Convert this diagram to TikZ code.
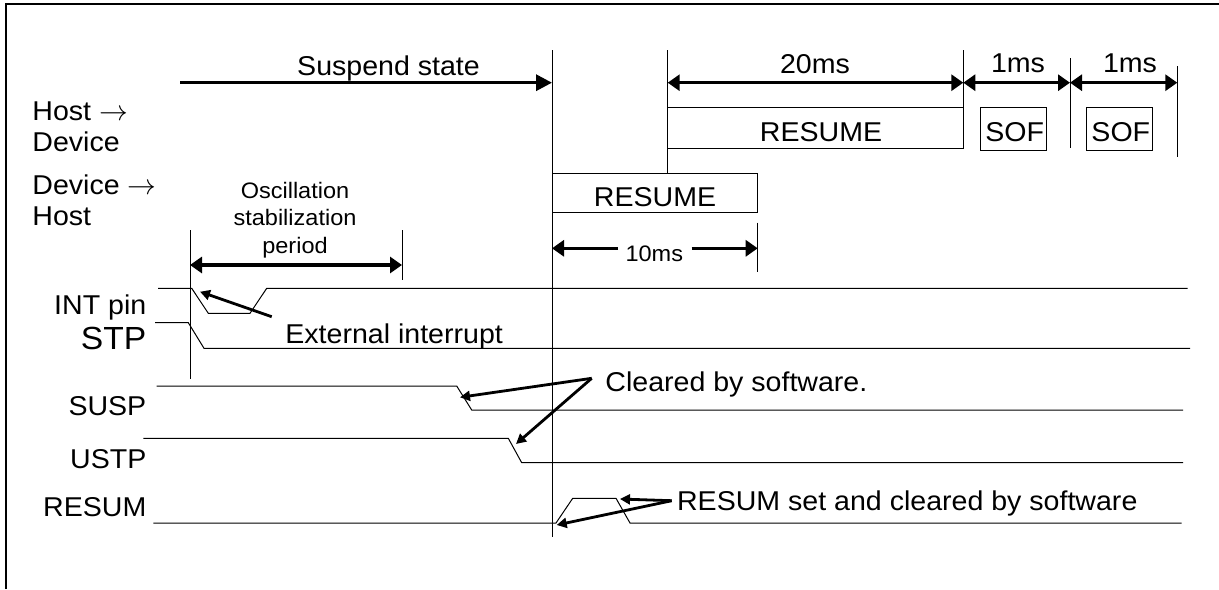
\documentclass[tikz,border=0pt]{standalone}
\usepackage{fontspec}
\setmainfont[FakeStretch=1.05]{Liberation Sans}
\usetikzlibrary{arrows.meta}
\begin{document}
\begin{tikzpicture}[x=0.5pt,y=-0.5pt,
  every node/.style={inner sep=0pt,font=\fontsize{13.6}{15.5}\selectfont},
  small/.style={font=\fontsize{11.2}{13.75}\selectfont},
  big/.style={font=\fontsize{16}{18}\selectfont},
  thin/.style={line width=0.5pt},
  span/.style={line width=1.6pt,{Triangle[length=6pt,width=8pt]}-{Triangle[length=6pt,width=8pt]}},
  halfspan/.style={line width=1.6pt,-{Triangle[length=6pt,width=8pt]}},
  callout/.style={line width=1.4pt,-{Triangle[length=5pt,width=5pt]}}]
\useasboundingbox (0,0) rectangle (1219,589);
\draw[line width=1pt] (6,589) -- (6,4) -- (1219,4);
% bus rows
\node[anchor=base west,align=left] (hd) at (32,151) {Host $\rightarrow$\\Device};
\node[anchor=base west,align=left] (dh) at (32,225) {Device $\rightarrow$\\Host};
\node[anchor=base] (suspst) at (388.5,75) {Suspend state};
\node[anchor=base] (t20) at (815,73) {20ms};
\node[anchor=base] (t1a) at (1018,72.7) {1ms};
\node[anchor=base] (t1b) at (1130,72.7) {1ms};
\node[small,anchor=base,align=center] (osc) at (295,253) {Oscillation\\stabilization\\period};
\node[small,anchor=base] (t10) at (654.3,261.7) {10ms};
\draw[thin] (667.7,107.7) rectangle (963.3,148.3);
\node[anchor=base] (hres) at (821,141.7) {RESUME};
\draw[thin] (552,173.3) rectangle (757.7,212.3);
\node[anchor=base] (dres) at (655,206.7) {RESUME};
\draw[thin] (980,107.7) rectangle (1046,150);
\node[anchor=base] (sof1) at (1014.7,141.7) {SOF};
\draw[thin] (1086.7,107.7) rectangle (1152.3,150);
\node[anchor=base] (sof2) at (1120.8,141.7) {SOF};
% time marks
\draw[thin] (552,50) -- (552,537);
\draw[thin] (667.7,50) -- (667.7,173.3);
\draw[thin] (963.3,50) -- (963.3,148.3);
\draw[thin] (1070,58.3) -- (1070,148.3);
\draw[thin] (1177.3,66) -- (1177.3,156.7);
\draw[thin] (190,230) -- (190,379);
\draw[thin] (402,230) -- (402,280);
\draw[thin] (757.7,222.7) -- (757.7,271.7);
\draw[line width=1.6pt,-{Triangle[length=8pt,width=8pt]}] (180,82.7) -- (552,82.7);
\foreach \a/\b in {667.7/963.3,963.3/1070,1070/1177.3}
  \draw[span] (\a,82.7) -- (\b,82.7);
\draw[span] (190,265) -- (402,265);
\draw[halfspan] (618,248.3) -- (552,248.3);
\draw[halfspan] (691.7,248.3) -- (757.7,248.3);
% signals
\node[anchor=base east] (lint) at (146.7,314.3) {INT pin};
\node[big,anchor=base east] (lstp) at (146.7,349) {STP};
\node[anchor=base east] (lsusp) at (146.7,415) {SUSP};
\node[anchor=base east] (lustp) at (146.7,468.3) {USTP};
\node[anchor=base east] (lres) at (146.7,516.7) {RESUM};
\draw[thin] (158,288.3) -- (191.7,288.3) -- (208.3,313.3) -- (250,313.3) -- (266.7,288.3) -- (1187.7,288.3);
\draw[thin] (155,322.7) -- (188.3,322.7) -- (204,348.3) -- (1190,348.3);
\draw[thin] (156.7,386) -- (456.7,386) -- (471.7,410) -- (1183,410);
\draw[thin] (143.3,438.3) -- (508.3,438.3) -- (521.7,462.7) -- (1183,462.7);
\draw[thin] (153.3,523) -- (556,523) -- (572.7,498.3) -- (616,498.3) -- (630,523) -- (1181.7,523);
% callouts
\node[anchor=base west] (ext) at (285,343.3) {External interrupt};
\node[anchor=base west] (clr) at (605,391) {Cleared by software.};
\node[anchor=base west] (rset) at (676.7,510) {RESUM set and cleared by software};
\coordinate (extT) at (271.7,316.7);
\coordinate (extH) at (200,291.7);
\coordinate (clrT) at (591.7,378.3);
\coordinate (clrA) at (460,397.3);
\coordinate (clrB) at (516,444);
\coordinate (rsT) at (671.7,500.7);
\coordinate (rsA) at (620,499);
\coordinate (rsB) at (556.7,525);
\draw[callout] (extT) -- (extH);
\draw[callout] (clrT) -- (clrA);
\draw[callout] (clrT) -- (clrB);
\draw[callout] (rsT) -- (rsA);
\draw[callout] (rsT) -- (rsB);
\end{tikzpicture}
\end{document}
